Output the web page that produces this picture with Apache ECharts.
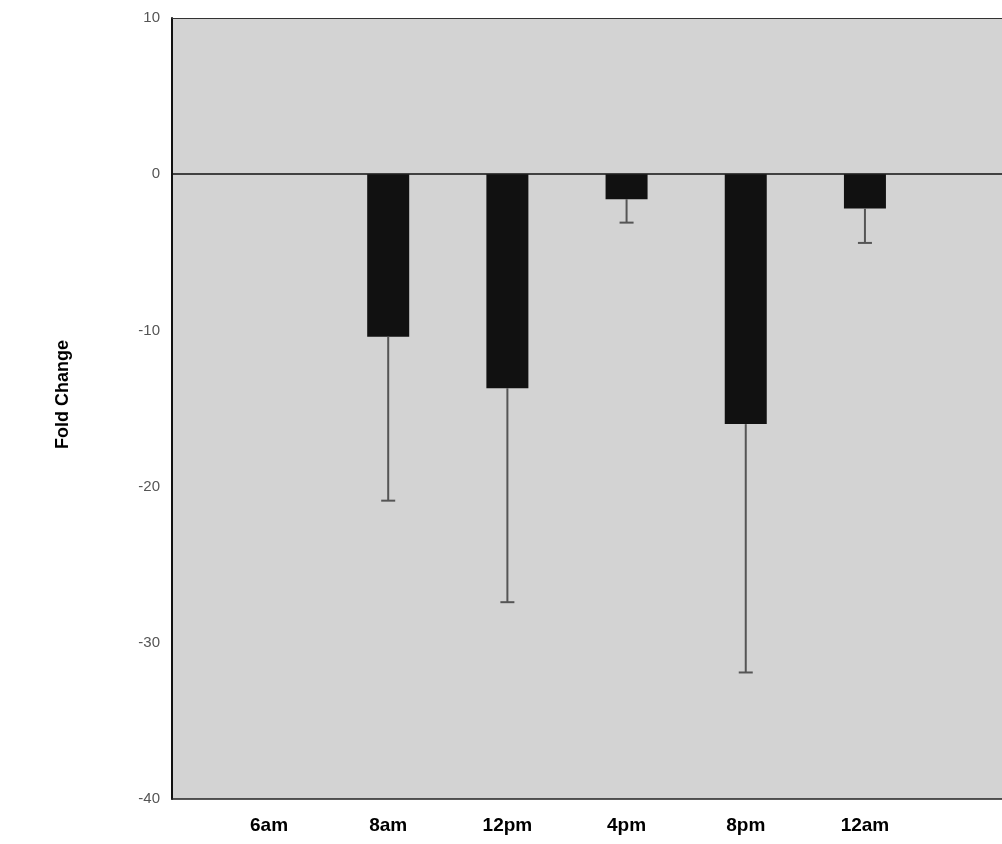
<!DOCTYPE html>
<html>
<head>
<meta charset="utf-8">
<script src="https://cdn.jsdelivr.net/npm/echarts@6/dist/echarts.min.js"></script>
<style>html,body{margin:0;padding:0;background:#fff;}#c{width:1002px;height:844px;}</style>
</head>
<body>
<div id="c"></div>
<script>
const categories = ['6am', '8am', '12pm', '4pm', '8pm', '12am'];
const foldChange = [0, -10.4, -13.7, -1.6, -16.0, -2.2];
const errorSize = [0, 10.5, 13.7, 1.5, 15.9, 2.2];
const yTicks = [10, 0, -10, -20, -30, -40];

const barData = categories.map((c, i) => [i, foldChange[i]]);
const errData = categories.map((c, i) => [i, foldChange[i], foldChange[i] - errorSize[i]]).filter(d => d[1] !== d[2]);

const xMin = -0.814, xMax = 6.15;
const chart = echarts.init(document.getElementById('c'));
chart.setOption({
  animation: false,
  grid: {
    left: 172, top: 18, right: 0, bottom: 45,
    show: true, backgroundColor: '#d3d3d3', borderWidth: 0
  },
  xAxis: [{
    type: 'value', min: xMin, max: xMax,
    splitLine: { show: false },
    axisLine: { show: true, onZero: false, lineStyle: { color: '#222', width: 1.5 } },
    axisTick: { show: false },
    axisLabel: {
      customValues: categories.map((c, i) => i),
      formatter: v => categories[Math.round(v)],
      color: '#000', fontWeight: 'bold', fontSize: 19, fontFamily: 'Liberation Sans', margin: 17
    }
  }, {
    type: 'value', position: 'top', min: xMin, max: xMax,
    splitLine: { show: false },
    axisLine: { show: true, onZero: false, lineStyle: { color: '#333', width: 1 } },
    axisTick: { show: false }, axisLabel: { show: false }
  }],
  yAxis: {
    type: 'value', min: -40, max: 10, interval: 10,
    name: 'Fold Change', nameLocation: 'middle', nameGap: 100, nameRotate: 90,
    nameTextStyle: { color: '#000', fontWeight: 'bold', fontSize: 18, fontFamily: 'Liberation Sans', padding: [0, 0, 0, 28] },
    splitLine: { show: false },
    axisLine: { show: true, onZero: false, lineStyle: { color: '#111', width: 2 } },
    axisTick: { show: false },
    axisLabel: { color: '#555', fontSize: 15, fontFamily: 'Liberation Sans', margin: 12,
      customValues: yTicks }
  },
  series: [
    {
      type: 'bar', data: barData, barWidth: 42,
      itemStyle: { color: '#111' },
      markLine: {
        silent: true, symbol: 'none', label: { show: false },
        lineStyle: { color: '#111', width: 1.5, type: 'solid' },
        data: [{ yAxis: 0 }]
      }
    },
    {
      type: 'custom', data: errData, z: 3,
      renderItem: (params, api) => {
        const top = api.coord([api.value(0), api.value(1)]);
        const bot = api.coord([api.value(0), api.value(2)]);
        const cap = 7;
        return {
          type: 'group',
          children: [
            { type: 'line', shape: { x1: top[0], y1: top[1], x2: bot[0], y2: bot[1] }, style: { stroke: '#555', lineWidth: 2 } },
            { type: 'line', shape: { x1: bot[0] - cap, y1: bot[1], x2: bot[0] + cap, y2: bot[1] }, style: { stroke: '#555', lineWidth: 2 } }
          ]
        };
      }
    }
  ]
});
</script>
</body>
</html>
